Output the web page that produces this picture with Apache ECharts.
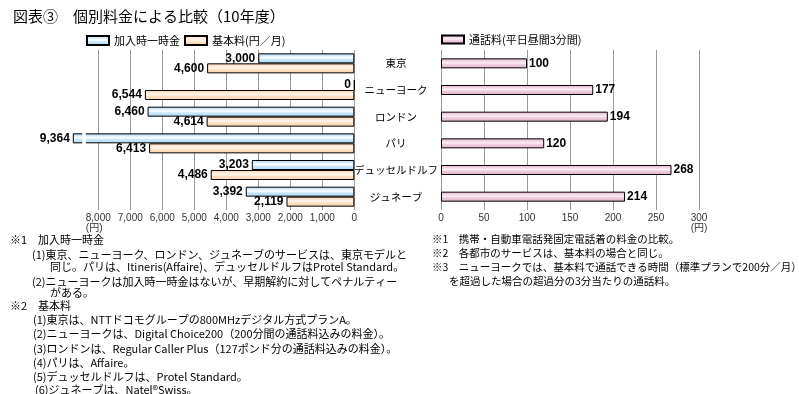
<!DOCTYPE html>
<html>
<head>
<meta charset="utf-8">
<script src="https://cdn.jsdelivr.net/npm/echarts@6/dist/echarts.min.js"></script>
<style>
html,body{margin:0;padding:0;background:#fff;}
#c{width:799px;height:394px;}
</style>
</head>
<body>
<div id="c"></div>
<script>
const cities = ['東京', 'ニューヨーク', 'ロンドン', 'パリ', 'デュッセルドルフ', 'ジュネーブ'];
const joinFee = [3000, 0, 6460, 9364, 3203, 3392];
const basicFee = [4600, 6544, 4614, 6413, 4486, 2119];
const callFee = [100, 177, 194, 120, 268, 214];
const leftTickMax = 8000;
const leftAxisMax = 8781;
const rightTickMax = 300;
const breakBand = [8390, 8500];

const titleText = '図表③　個別料金による比較（10年度）';
const notesLeft = [
  ['※1　加入時一時金', 10, 234],
  ['(1)東京、ニューヨーク、ロンドン、ジュネーブのサービスは、東京モデルと', 32, 249],
  ['同じ。パリは、Itineris(Affaire)、デュッセルドルフはProtel Standard。', 50, 261],
  ['(2)ニューヨークは加入時一時金はないが、早期解約に対してペナルティー', 32, 276],
  ['がある。', 50, 287],
  ['※2　基本料', 10, 300],
  ['(1)東京は、NTTドコモグループの800MHzデジタル方式プランA。', 33, 314],
  ['(2)ニューヨークは、Digital Choice200（200分間の通話料込みの料金）。', 33, 328],
  ['(3)ロンドンは、Regular Caller Plus（127ポンド分の通話料込みの料金）。', 33, 343],
  ['(4)パリは、Affaire。', 33, 357],
  ['(5)デュッセルドルフは、Protel Standard。', 33, 371],
  ['(6)ジュネーブは、Natel®Swiss。', 35, 384]
];
const notesRight = [
  ['※1　携帯・自動車電話発固定電話着の料金の比較。', 432, 234],
  ['※2　各都市のサービスは、基本料の場合と同じ。', 432, 248],
  ['※3　ニューヨークでは、基本料で通話できる時間（標準プランで200分／月）', 432, 262],
  ['を超過した場合の超過分の3分当たりの通話料。', 449, 276]
];

const JP = "'Noto Sans CJK JP', sans-serif";
const NUM = "'Liberation Sans', 'Noto Sans CJK JP', sans-serif";
function fmt(v) { return String(v).replace(/\B(?=(\d{3})+(?!\d))/g, ','); }
function grad(c0, c1, c2) {
  return new echarts.graphic.LinearGradient(0, 0, 0, 1, [
    {offset: 0, color: c0}, {offset: 0.45, color: c1}, {offset: 0.6, color: c2}, {offset: 1, color: c0}
  ]);
}
const blue = grad('#a6d3f1', '#ffffff', '#d2eafa');
const orange = grad('#f9cfa6', '#fff8f0', '#fde3c9');
const pink = grad('#e2adc9', '#fcf0f6', '#efcfe0');

const chart = echarts.init(document.getElementById('c'), null, {renderer: 'canvas'});

const graphics = [];
notesLeft.forEach(n => {
  graphics.push({type: 'text', left: n[1], top: n[2], style: {text: n[0], font: "11px 'Noto Sans CJK JP'", fill: '#000'}});
});
notesRight.forEach(n => {
  graphics.push({type: 'text', left: n[1], top: n[2], style: {text: n[0], font: "10.5px 'Noto Sans CJK JP'", fill: '#000'}});
});

const option = {
  animation: false,
  backgroundColor: '#fff',
  title: {text: titleText, left: 8, top: 4, textStyle: {fontSize: 15, fontWeight: 'normal', color: '#000', fontFamily: JP}},
  legend: [
    {data: ['加入時一時金', '基本料(円／月)'], left: 86, top: 35, padding: 0, itemWidth: 22, itemHeight: 9, itemGap: 4,
     icon: 'rect', textStyle: {fontSize: 11, color: '#000', fontFamily: JP}},
    {data: ['通話料(平日昼間3分間)'], left: 441, top: 34, padding: 0, itemWidth: 22, itemHeight: 8, icon: 'rect',
     textStyle: {fontSize: 11, color: '#000', fontFamily: JP}}
  ],
  grid: [
    {left: 73.3, right: 444.7, top: 50, height: 160},
    {left: 441, right: 100, top: 50, height: 160}
  ],
  xAxis: [
    {type: 'value', gridIndex: 0, inverse: true, min: 0, max: leftAxisMax, interval: 1000,
     axisLine: {show: false}, axisTick: {show: false},
     splitLine: {show: true, showMaxLine: false, lineStyle: {color: '#999', width: 1}},
     axisLabel: {margin: 3, fontSize: 10, color: '#333', fontFamily: NUM, showMaxLabel: false,
       formatter: function (v) {
         if (v % 1000 !== 0 || v > leftTickMax) return '';
         if (v === leftTickMax) return fmt(v) + '\n(円)   ';
         return fmt(v);
       }}},
    {type: 'value', gridIndex: 1, min: 0, max: rightTickMax, interval: 50,
     axisLine: {show: false}, axisTick: {show: false},
     splitLine: {show: true, lineStyle: {color: '#999', width: 1}},
     axisLabel: {margin: 3, fontSize: 10, color: '#333', fontFamily: NUM,
       formatter: function (v) { return v === rightTickMax ? v + '\n(円)' : String(v); }}}
  ],
  yAxis: [
    {type: 'category', gridIndex: 0, data: cities, inverse: true, show: false},
    {type: 'category', gridIndex: 1, data: cities, inverse: true,
     axisLine: {show: false}, axisTick: {show: false},
     axisLabel: {align: 'center', margin: 45, fontSize: 10.5, color: '#000', fontFamily: JP}}
  ],
  series: [
    {name: '加入時一時金', type: 'bar', xAxisIndex: 0, yAxisIndex: 0, data: joinFee, barWidth: 10, barGap: '0%',
     itemStyle: {color: blue, borderColor: '#000', borderWidth: 1},
     label: {show: true, position: 'left', distance: 3, fontSize: 12, fontWeight: 'bold', color: '#000', fontFamily: NUM,
       formatter: p => fmt(p.value)},
     markArea: {silent: true, z: 10, itemStyle: {color: '#fff', borderWidth: 0}, label: {show: false},
       data: [[{xAxis: breakBand[0]}, {xAxis: breakBand[1]}]]}},
    {name: '基本料(円／月)', type: 'bar', xAxisIndex: 0, yAxisIndex: 0, data: basicFee, barWidth: 10, barGap: '0%',
     itemStyle: {color: orange, borderColor: '#000', borderWidth: 1},
     label: {show: true, position: 'left', distance: 3, fontSize: 12, fontWeight: 'bold', color: '#000', fontFamily: NUM,
       formatter: p => fmt(p.value)}},
    {name: '通話料(平日昼間3分間)', type: 'bar', xAxisIndex: 1, yAxisIndex: 1, data: callFee, barWidth: 10,
     itemStyle: {color: pink, borderColor: '#000', borderWidth: 1},
     label: {show: true, position: 'right', distance: 2, fontSize: 12, fontWeight: 'bold', color: '#000', fontFamily: NUM,
       formatter: p => fmt(p.value)}}
  ],
  graphic: graphics
};
chart.setOption(option);
</script>
</body>
</html>
